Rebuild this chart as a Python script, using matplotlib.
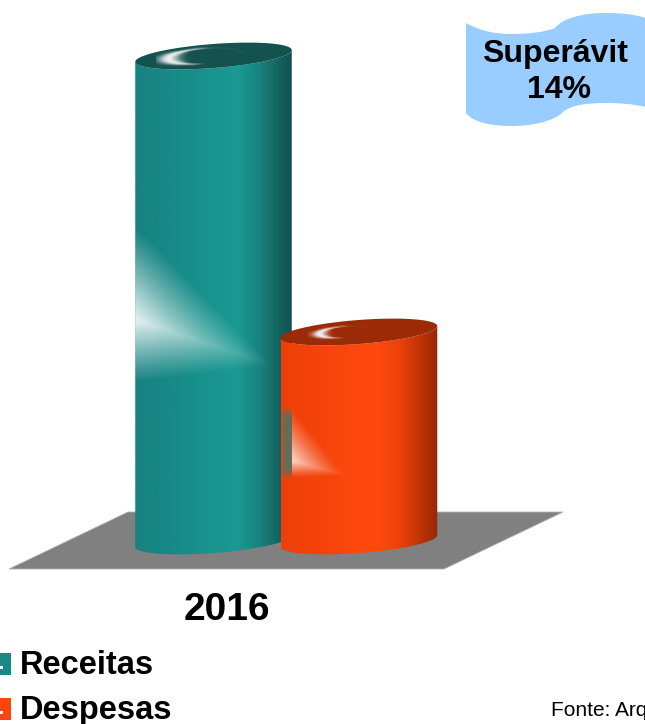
#!/usr/bin/env python3
import matplotlib
matplotlib.use("Agg")
import matplotlib.pyplot as plt
import numpy as np
from matplotlib.colors import LinearSegmentedColormap, to_rgb
from matplotlib.patches import PathPatch, Polygon, Rectangle
from matplotlib.path import Path

plt.rcParams['font.family'] = ['Liberation Sans', 'DejaVu Sans']

# bar heights, there is no value axis
categories = ["Receitas", "Despesas"]
values = [485, 209]
year = "2016"
note = ["Superávit", "14%"]
source = "Fonte: Arq"

BASE = 541
TILT = np.radians(4.4)
RX, RY = 78.5, 12

fig = plt.figure(figsize=(6.45, 7.24), dpi=100)
ax = fig.add_axes([0, 0, 1, 1])


def ellipse(cx, cy, t):
  x = cx + RX * np.cos(t) * np.cos(TILT) + RY * np.sin(t) * np.sin(TILT)
  y = cy - RX * np.cos(t) * np.sin(TILT) + RY * np.sin(t) * np.cos(TILT)
  return x, y


def pixelGrid(x0, x1, y0, y1):
  xs = np.arange(x0, x1 + 1)
  ys = np.arange(y0, y1 + 1)
  return np.meshgrid(xs, ys)


def overlay(alpha, color, x0, x1, y0, y1, clip=None, zorder=3):
  img = np.zeros(alpha.shape + (4,))
  img[..., :3] = to_rgb(color)
  img[..., 3] = np.clip(alpha, 0, 1)
  im = ax.imshow(img, extent=(x0, x1, y1, y0), origin="upper", aspect="auto",
                 interpolation="bilinear", zorder=zorder)
  if clip is not None:
    im.set_clip_path(clip)
  return im


def fanGloss(center, corners, strength, power, clip, zorder):
  # bright spot at center fading out to the polygon border
  corners = np.array(corners, dtype=float)
  c = np.array(center, dtype=float)
  x0, y0 = corners.min(axis=0).astype(int)
  x1, y1 = corners.max(axis=0).astype(int)
  X, Y = pixelGrid(x0, x1, y0, y1)
  gauge = np.zeros(X.shape)
  for i in range(len(corners)):
    a = corners[i] - c
    b = corners[(i + 1) % len(corners)] - c
    n = np.array([b[1] - a[1], a[0] - b[0]])
    d = n @ a
    if d == 0:
      continue
    n = n / d
    gauge = np.maximum(gauge, n[0] * (X - c[0]) + n[1] * (Y - c[1]))
  alpha = strength * np.clip(1 - gauge, 0, 1) ** power
  overlay(alpha, "white", x0, x1, y0, y1, clip, zorder)


def crescent(cx, cy, rx, ry, zorder):
  # highlight on the top cap, fat on the left and thin going round to the right
  x0, x1 = int(cx - rx - 12), int(cx + rx + 12)
  y0, y1 = int(cy - ry - 10), int(cy + ry + 10)
  X, Y = pixelGrid(x0, x1, y0, y1)
  dx, dy = X - cx, Y - cy
  u = dx * np.cos(TILT) - dy * np.sin(TILT)
  v = dx * np.sin(TILT) + dy * np.cos(TILT)
  r = np.hypot(u / rx, v / ry)
  phi = np.arctan2(v, -u)
  up = phi < 0
  fade = np.where(up, np.exp(-(np.abs(phi) / 1.7) ** 2), np.exp(-(phi / 0.8) ** 2))
  width = 0.09 + 0.2 * np.exp(-(phi / 0.25) ** 2)
  alpha = 1.0 * fade * np.exp(-((r - 1) / width) ** 2)
  overlay(alpha, "#f0f0f0", x0, x1, y0, y1, None, zorder)


def drawCylinder(cx, height, stops, topColor, zorder):
  topY = BASE - height
  t = np.linspace(np.pi, 0, 80)
  bx, by = ellipse(cx, BASE, t)
  tx, ty = ellipse(cx, topY, t[::-1])
  body = Polygon(np.column_stack([np.r_[bx, tx], np.r_[by, ty]]), closed=True,
                 facecolor="none", edgecolor="none", zorder=zorder)
  ax.add_patch(body)
  cmap = LinearSegmentedColormap.from_list("side", stops)
  grad = np.linspace(0, 1, 256).reshape(1, -1)
  im = ax.imshow(grad, cmap=cmap, extent=(cx - RX, cx + RX, BASE + 20, topY - 20),
                 aspect="auto", interpolation="bilinear", zorder=zorder)
  im.set_clip_path(body)
  t = np.linspace(0, 2 * np.pi, 120)
  cx2, cy2 = ellipse(cx, topY, t)
  ax.add_patch(Polygon(np.column_stack([cx2, cy2]), closed=True, facecolor=topColor,
                       edgecolor="none", zorder=zorder + 0.1))
  return body


def drawBanner():
  verts = [(466, 23), (480, 31), (495, 34), (512, 34), (530, 34), (545, 32), (555, 28),
           (563, 18), (583, 13), (605, 13), (620, 13), (633, 14), (646, 18),
           (646, 107), (633, 104), (620, 103), (605, 103), (585, 103), (568, 106), (562, 113),
           (553, 121), (533, 126), (512, 126), (490, 126), (473, 122), (466, 113),
           (466, 23)]
  codes = [Path.MOVETO] + [Path.CURVE4] * 12 + [Path.LINETO] + [Path.CURVE4] * 12 + [Path.CLOSEPOLY]
  ax.add_patch(PathPatch(Path(verts, codes), facecolor="#99ccff", edgecolor="none", zorder=1))


# floor
ax.add_patch(Polygon([(128, 512), (563, 512), (444, 569), (9, 569)], closed=True,
                     facecolor="#808080", edgecolor="#b0b0b0", linewidth=0.6, zorder=1))

tealStops = [(0, "#178280"), (0.25, "#178a87"), (0.65, "#1a9a92"), (0.8, "#178280"),
             (0.92, "#14625f"), (1, "#125250")]
orangeStops = [(0, "#ee3f08"), (0.25, "#f5440b"), (0.6, "#ff4a0e"), (0.75, "#ee4209"),
               (0.88, "#c23507"), (1, "#952905")]

bodyA = drawCylinder(213.5, values[0], tealStops, "#14524f", 2)
fanGloss((135, 320), [(135, 226), (148, 236), (274, 366), (135, 384)], 0.9, 1.1, bodyA, 2.5)
crescent(205, BASE - values[0], 37, 8, 2.6)

bodyB = drawCylinder(359, values[1], orangeStops, "#9c2a06", 4)
# dark smudge where the gloss of the first bar shows through
X, Y = pixelGrid(281, 292, 408, 480)
smudge = np.clip((X - 280) / 5.0, 0, 1) * np.clip((Y - 406) / 10.0, 0, 1) * np.clip((480 - Y) / 10.0, 0, 1)
overlay(0.78 * smudge, "#3f7a70", 281, 292, 408, 480, bodyB, 4.5)
fanGloss((292, 461), [(292, 407), (347, 476), (292, 479)], 0.78, 1.2, bodyB, 4.6)
crescent(345, BASE - values[1], 26, 6, 4.7)

drawBanner()
ax.text(555, 54, note[0], fontsize=23, fontweight="bold", ha="center", va="center", zorder=6)
ax.text(559, 90, note[1], fontsize=23, fontweight="bold", ha="center", va="center", zorder=6)

ax.text(227, 610, year, fontsize=28, fontweight="bold", ha="center", va="center", zorder=6)

# legend
swatches = ["#178a87", "#fc440c"]
for i in range(len(categories)):
  y = 653 + i * 45
  ax.add_patch(Rectangle((0, y), 11, 22, facecolor=swatches[i], edgecolor="none", zorder=5))
  ax.add_patch(Rectangle((0, y + 13), 2.5, 2.5, facecolor="white", edgecolor="none", zorder=6))
  ax.text(20, y + 12, categories[i], fontsize=23.5, fontweight="bold", ha="left", va="center", zorder=6)

# the reference cuts this one off at the right edge too
ax.text(551, 710, source, fontsize=15, ha="left", va="center", zorder=6)

ax.set_xlim(0, 645)
ax.set_ylim(724, 0)
ax.axis("off")
fig.savefig("out.png", dpi=100)
